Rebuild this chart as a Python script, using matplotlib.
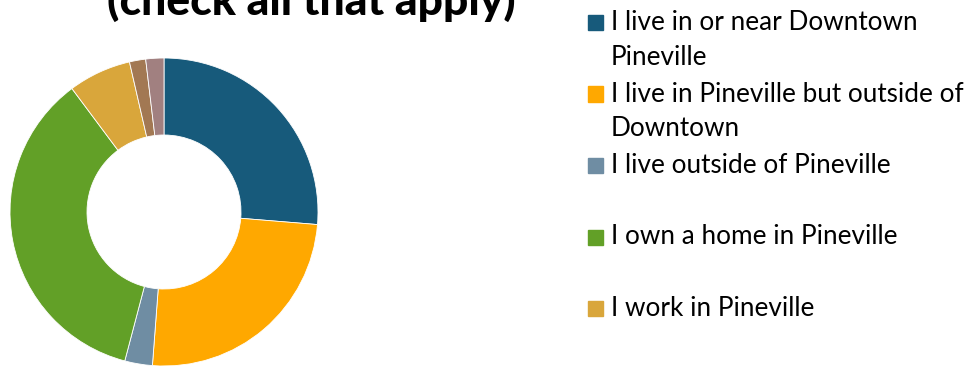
import matplotlib
matplotlib.use("Agg")
import matplotlib.pyplot as plt
from matplotlib.patches import Rectangle

# share of respondents per answer, clockwise from 12 o'clock
labels = [
    "I live in or near Downtown\nPineville",
    "I live in Pineville but outside of\nDowntown",
    "I live outside of Pineville",
    "I own a home in Pineville",
    "I work in Pineville",
    "I own a business in Pineville",
    "Other",
]
shares = [26.3, 24.9, 2.9, 35.7, 6.6, 1.7, 1.9]
colors = ["#175A7B", "#FFA800", "#6F8DA3", "#62A027", "#D9A63B", "#A27853", "#A18080"]

W, H = 971, 366
fig = plt.figure(figsize=(W / 100, H / 100), dpi=100)

# donut
ax = fig.add_axes([10 / W, 0 / H, 308 / W, 308 / H])
ax.pie(shares, colors=colors, startangle=90, counterclock=False,
       wedgeprops=dict(width=0.5, edgecolor="white", linewidth=0.6))
ax.set_xlim(-1, 1)
ax.set_ylim(-1, 1)
ax.set_aspect("equal")
ax.axis("off")

# title, mostly above the top edge
fig.text(311 / W, (H - 15) / H, "Relationship to Pineville\n(check all that apply)",
         ha="center", va="baseline", fontsize=32, fontweight="black",
         family="Lato", linespacing=1.1)

# legend on the right; entries below the bottom edge are skipped
font = "Lato"
fs = 18.8
y = 30
for lab, col in zip(labels, colors):
    if y > H:
        break
    fig.patches.append(Rectangle((588 / W, (H - y) / H), 15 / W, 15 / H,
                                 transform=fig.transFigure, color=col))
    for i, line in enumerate(lab.split("\n")):
        fig.text(611 / W, (H - y - 35 * i) / H, line, ha="left", va="baseline",
                 fontsize=fs, family=font, color="black")
    y += 71.5

fig.savefig("out.png", dpi=100)
